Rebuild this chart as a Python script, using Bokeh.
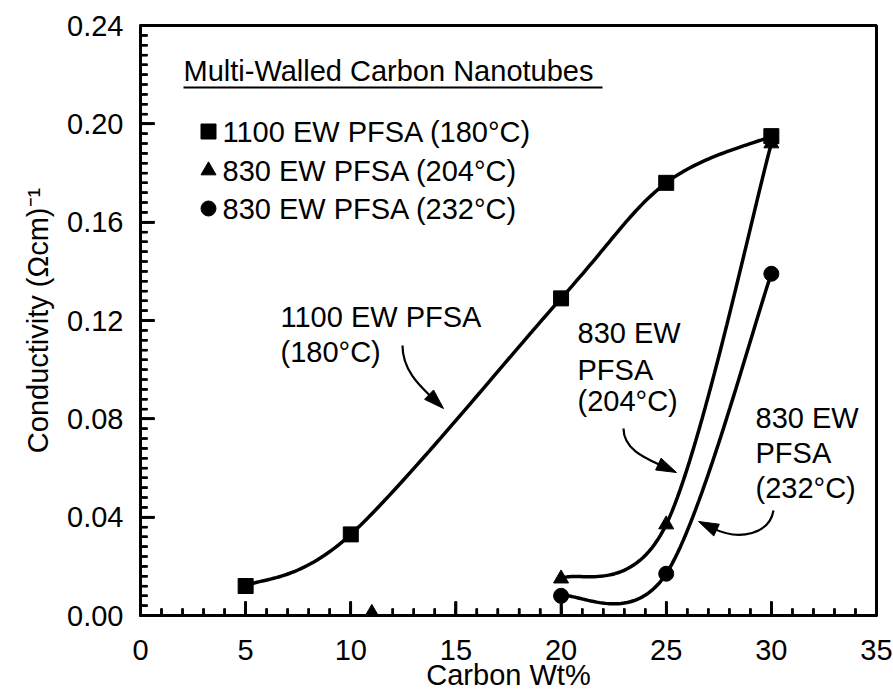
import numpy as np
from bokeh.plotting import figure
from bokeh.models import Range1d, FixedTicker, NumeralTickFormatter, Label, Arrow, ColumnDataSource
from bokeh.embed import file_html
from bokeh.resources import INLINE

# ---- data ----
x_1100 = [5, 10, 20, 25, 30]
y_1100 = [0.012, 0.033, 0.129, 0.176, 0.195]

x_830_204 = [11, 20, 25, 30]
y_830_204 = [0.001, 0.015, 0.037, 0.192]

x_830_232 = [20, 25, 30]
y_830_232 = [0.008, 0.017, 0.139]

x_ticks = [0, 5, 10, 15, 20, 25, 30, 35]
x_minor = list(range(0, 36))
y_ticks = [0.00, 0.04, 0.08, 0.12, 0.16, 0.20, 0.24]
y_minor = [round(i * 0.004, 3) for i in range(61)]

FONT = "Liberation Sans"
FS = "29px"

# frame geometry (pixels)
L, R, T, B = 140, 876, 25, 615
W_, H_ = 893, 694
X0, X1, Y0, Y1 = 0, 35, 0, 0.24
SX = (R - L) / (X1 - X0)
SY = (B - T) / (Y1 - Y0)


def px(xp, yp):
    return X0 + (xp - L) / SX, Y0 + (B - yp) / SY


def catmull_rom(xs, ys, n=40):
    P = np.column_stack([xs, ys]).astype(float)
    P = np.vstack([P[0], P, P[-1]])
    out = []
    for i in range(1, len(P) - 2):
        p0, p1, p2, p3 = P[i - 1], P[i], P[i + 1], P[i + 2]
        m1 = (p2 - p0) / 2.0
        m2 = (p3 - p1) / 2.0
        t = np.linspace(0, 1, n)[:, None]
        h00 = 2 * t**3 - 3 * t**2 + 1
        h10 = t**3 - 2 * t**2 + t
        h01 = -2 * t**3 + 3 * t**2
        h11 = t**3 - t**2
        seg = h00 * p1 + h10 * m1 + h01 * p2 + h11 * m2
        out.append(seg if i == 1 else seg[1:])
    arr = np.vstack(out)
    return arr[:, 0], arr[:, 1]


p = figure(width=W_, height=H_, output_backend="svg", toolbar_location=None,
           x_range=Range1d(X0, X1), y_range=Range1d(Y0, Y1),
           min_border_left=L, min_border_right=W_ - R, min_border_top=T, min_border_bottom=H_ - B)
p.grid.visible = False
p.outline_line_color = "black"
p.outline_line_width = 3

for ax in (p.xaxis[0], p.yaxis[0]):
    ax.axis_line_width = 3
    ax.major_tick_in = 14
    ax.major_tick_out = 1
    ax.minor_tick_in = 7
    ax.minor_tick_out = 1
    ax.major_tick_line_width = 2.5
    ax.minor_tick_line_width = 2.2
    ax.major_tick_line_color = "black"
    ax.minor_tick_line_color = "black"
    ax.major_label_text_font = FONT
    ax.major_label_text_font_size = FS
    ax.major_label_text_color = "black"
    ax.axis_label_text_font = FONT
    ax.axis_label_text_font_size = FS
    ax.axis_label_text_font_style = "normal"
    ax.axis_label_text_color = "black"

p.xaxis.ticker = FixedTicker(ticks=x_ticks, minor_ticks=x_minor)
p.yaxis.ticker = FixedTicker(ticks=y_ticks, minor_ticks=y_minor)
p.yaxis.formatter = NumeralTickFormatter(format="0.00")
p.xaxis.major_label_standoff = 23
p.yaxis.major_label_standoff = 16
p.xaxis.axis_label = "Carbon Wt%"
p.yaxis.axis_label = "Conductivity (\u03a9cm)\u207b\u00b9"
p.xaxis.axis_label_standoff = -4
p.yaxis.axis_label_standoff = 10

# ---- curves ----
lw = 3.5
cx, cy = catmull_rom(x_1100, y_1100)
p.line(cx, cy, line_color="black", line_width=lw)
cx, cy = catmull_rom(x_830_204[1:], y_830_204[1:])
p.line(cx, cy, line_color="black", line_width=lw)
cx, cy = catmull_rom(x_830_232, y_830_232)
p.line(cx, cy, line_color="black", line_width=lw)

# ---- markers ----
p.scatter(x_1100, y_1100, marker="square", size=15, color="black")
p.scatter(x_830_204, y_830_204, marker="triangle", size=15, color="black")
p.scatter(x_830_232, y_830_232, marker="circle", size=15, color="black")

# ---- legend (drawn inside the frame) ----
tx, ty = px(183, 70)
p.add_layout(Label(x=tx, y=ty, text="Multi-Walled Carbon Nanotubes", text_font=FONT,
                   text_font_size=FS, text_baseline="middle", text_color="black"))
ux0, uy = px(183, 87)
ux1, _ = px(602, 87)
p.line([ux0, ux1], [uy, uy], line_color="black", line_width=2)

leg_markers = ["square", "triangle", "circle"]
leg_labels = ["1100 EW PFSA (180\u00b0C)", "830 EW PFSA (204\u00b0C)", "830 EW PFSA (232\u00b0C)"]
leg_rows = [131, 170, 208]
for mk, lab, row in zip(leg_markers, leg_labels, leg_rows):
    mx, my = px(208, row)
    p.scatter([mx], [my], marker=mk, size=15, color="black")
    lx, ly = px(222, row)
    p.add_layout(Label(x=lx, y=ly, text=lab, text_font=FONT, text_font_size=FS,
                       text_baseline="middle", text_color="black"))

# ---- annotations (centres of text lines, pixels) ----
ann = [
    (280, 316, "1100 EW PFSA"), (280, 351, "(180\u00b0C)"),
    (577, 332, "830 EW"), (577, 369, "PFSA"), (577, 400, "(204\u00b0C)"),
    (755, 417, "830 EW"), (755, 452, "PFSA"), (755, 487, "(232\u00b0C)"),
]
for xp_, yp_, t in ann:
    ax_, ay_ = px(xp_, yp_)
    p.add_layout(Label(x=ax_, y=ay_, text=t, text_font=FONT, text_font_size=FS,
                       text_baseline="middle", text_color="black"))

# curved arrows: start, control 0, control 1, tip (pixels)
arrows = [
    ((402, 345), (402, 370), (420, 386), (443, 408)),
    ((623, 428), (623, 450), (648, 459), (676, 472)),
    ((773, 510), (769, 533), (740, 541), (698, 521)),
]
HL, HW = 20, 6.5
for s, c0, c1, e in arrows:
    d = np.array([e[0] - c1[0], e[1] - c1[1]], float)
    d /= np.hypot(*d)
    n = np.array([-d[1], d[0]])
    base = np.array(e, float) - HL * d
    b1 = base + HW * n
    b2 = base - HW * n
    xs, ys = zip(*[px(*s), px(*c0), px(*c1), px(*(base + 4 * d))])
    p.bezier(x0=[xs[0]], y0=[ys[0]], cx0=[xs[1]], cy0=[ys[1]], cx1=[xs[2]], cy1=[ys[2]],
             x1=[xs[3]], y1=[ys[3]], line_color="black", line_width=2.2)
    hx, hy = zip(*[px(*e), px(*b1), px(*b2)])
    p.patch(list(hx), list(hy), fill_color="black", line_color="black", line_width=1)

# ---- inward ticks, drawn last from the tick lists ----
maj_len, min_len = 14, 7
xm = [t for t in x_minor if t not in x_ticks]
ym = [t for t in y_minor if all(abs(t - m) > 1e-9 for m in y_ticks)]


def tick_source(vals, length, vertical):
    vals = [float(v) for v in vals]
    if vertical:
        return dict(x0=vals, y0=[float(Y0)] * len(vals), x1=vals, y1=[Y0 + length / SY] * len(vals))
    return dict(x0=[float(X0)] * len(vals), y0=vals, x1=[X0 + length / SX] * len(vals), y1=vals)


tick_sets = [
    (tick_source(x_ticks, maj_len, True), 2.5),
    (tick_source(xm, min_len, True), 2.2),
    (tick_source(y_ticks, maj_len, False), 2.5),
    (tick_source(ym, min_len, False), 2.2),
]
for data, w in tick_sets:
    # as overlay-level glyphs
    r = p.segment(x0=data["x0"], y0=data["y0"], x1=data["x1"], y1=data["y1"],
                  line_color="black", line_width=w)
    r.level = "overlay"
    # and as head-less arrow annotations
    p.add_layout(Arrow(end=None, x_start="x0", y_start="y0", x_end="x1", y_end="y1",
                       source=ColumnDataSource(data), line_color="black", line_width=w))

open("out.html", "w").write(file_html(p, INLINE))
